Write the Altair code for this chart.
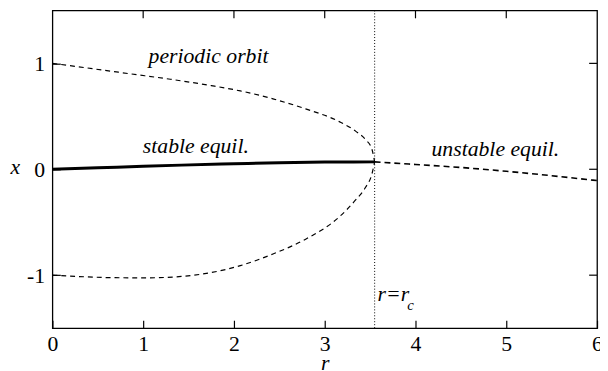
import altair as alt
import pandas as pd

FONT = "Liberation Serif"

# ---- data ----
r_c = 3.55

stable_r = [0.0, 0.5, 1.0, 1.42, 2.0, 2.5, 3.0, 3.55]
stable_x = [0.0, 0.014, 0.028, 0.039, 0.052, 0.062, 0.068, 0.07]

upper_r = [0.0, 0.44, 0.87, 1.30, 1.75, 2.07, 2.43, 2.79, 3.16, 3.34, 3.45, 3.52, 3.55]
upper_x = [1.0, 0.95, 0.90, 0.85, 0.79, 0.74, 0.665, 0.57, 0.45, 0.36, 0.28, 0.19, 0.07]

lower_r = [0.0, 0.35, 0.69, 1.05, 1.42, 1.75, 2.07, 2.43, 2.79, 3.16, 3.34, 3.45, 3.52, 3.55]
lower_x = [-1.0, -1.015, -1.024, -1.025, -1.012, -0.975, -0.91, -0.80, -0.66, -0.45, -0.29, -0.17,
           -0.045, 0.07]

unstable_r = [3.55, 4.0, 4.5, 5.0, 5.5, 6.0]
unstable_x = [0.07, 0.045, 0.017, -0.019, -0.061, -0.107]

ann_text = ["periodic orbit", "stable equil.", "unstable equil."]
ann_r = [1.72, 1.58, 4.88]
ann_x = [1.0, 0.155, 0.125]

rc_label_y = -1.248

x_ticks = [0, 1, 2, 3, 4, 5, 6]
y_ticks = [-1, 0, 1]

W, H = 552, 322
TICK = 8


def df(r, x):
    return pd.DataFrame({"r": r, "x": x})


xs = alt.Scale(domain=[0, 6], nice=False, zero=False)
ys = alt.Scale(domain=[-1.5, 1.5], nice=False, zero=False)

# main axes sit TICK px inside the frame so their ticks point inward
x_axis = alt.Axis(orient="bottom", values=x_ticks, ticks=True, tickSize=TICK, offset=-TICK,
                  tickColor="black", tickWidth=1.2, domain=False, grid=False,
                  labelExpr="'' + datum.value",
                  labelFont=FONT, labelFontSize=22, labelColor="black", labelPadding=6,
                  labelFlush=False, labelOverlap=False, labelBound=False,
                  title="r", titleFont=FONT, titleFontSize=22, titleFontStyle="italic",
                  titleFontWeight="normal", titleColor="black", titleBaseline="alphabetic",
                  titleY=42 + TICK)
y_axis = alt.Axis(orient="left", values=y_ticks, ticks=True, tickSize=TICK, offset=-TICK,
                  tickColor="black", tickWidth=1.2, domain=False, grid=False,
                  labelExpr="'' + datum.value",
                  labelFont=FONT, labelFontSize=22, labelColor="black", labelPadding=8,
                  labelOverlap=False, labelBound=False,
                  title="x", titleFont=FONT, titleFontSize=22, titleFontStyle="italic",
                  titleFontWeight="normal", titleColor="black", titleAngle=0,
                  titleAlign="center", titleBaseline="alphabetic", titleX=-38 - TICK, titleY=165)

# shared encodings; other layers leave the axis implicit so the explicit one wins
X = alt.X("r:Q", scale=xs)
Y = alt.Y("x:Q", scale=ys)

stable = alt.Chart(df(stable_r, stable_x)).mark_line(
    color="black", strokeWidth=3, interpolate="monotone"
).encode(
    x=alt.X("r:Q", scale=xs, axis=x_axis),
    y=alt.Y("x:Q", scale=ys, axis=y_axis),
)

upper = alt.Chart(df(upper_r, upper_x)).mark_line(
    color="black", strokeWidth=1.2, strokeDash=[5, 4], interpolate="monotone"
).encode(x=X, y=Y)

lower = alt.Chart(df(lower_r, lower_x)).mark_line(
    color="black", strokeWidth=1.2, strokeDash=[5, 4], interpolate="monotone"
).encode(x=X, y=Y)

unstable = alt.Chart(df(unstable_r, unstable_x)).mark_line(
    color="black", strokeWidth=1.6, strokeDash=[6, 4], interpolate="monotone"
).encode(x=X, y=Y)

# mirrored inward ticks on the top and right edges
top_ticks = alt.Chart(pd.DataFrame({"r": x_ticks[1:-1]})).mark_rule(
    color="black", strokeWidth=1.2
).encode(x=X, y=alt.value(0), y2=alt.value(TICK))

right_ticks = alt.Chart(pd.DataFrame({"x": y_ticks})).mark_rule(
    color="black", strokeWidth=1.2
).encode(y=Y, x=alt.value(W - TICK), x2=alt.value(W))

rc_rule = alt.Chart(pd.DataFrame({"r": [r_c]})).mark_rule(
    color="black", strokeWidth=1, strokeDash=[1, 2]
).encode(x=X)

ann = alt.Chart(pd.DataFrame({"t": ann_text, "r": ann_r, "x": ann_x})).mark_text(
    font=FONT, fontSize=22, fontStyle="italic", align="center", baseline="alphabetic", color="black"
).encode(x=X, y=Y, text="t:N")

rc_df = pd.DataFrame({"r": [r_c], "x": [rc_label_y], "t": ["r=r"], "s": ["c"]})
rc_text = alt.Chart(rc_df).mark_text(
    font=FONT, fontSize=22, fontStyle="italic", align="left", baseline="alphabetic",
    color="black", dx=3
).encode(x=X, y=Y, text="t:N")
rc_sub = alt.Chart(rc_df).mark_text(
    font=FONT, fontSize=15, fontStyle="italic", align="left", baseline="alphabetic",
    color="black", dx=33, dy=9
).encode(x=X, y=Y, text="s:N")

chart = alt.layer(
    stable, upper, lower, unstable, top_ticks, right_ticks, rc_rule, ann, rc_text, rc_sub
).properties(
    width=W, height=H,
    autosize=alt.AutoSizeParams(type="none"),
    padding={"left": 45, "top": 0, "right": 3, "bottom": 41},
    background="white",
).configure_view(
    stroke="black", strokeWidth=1.3
)

chart.save("out.html", embed_options={"renderer": "svg", "actions": False})
